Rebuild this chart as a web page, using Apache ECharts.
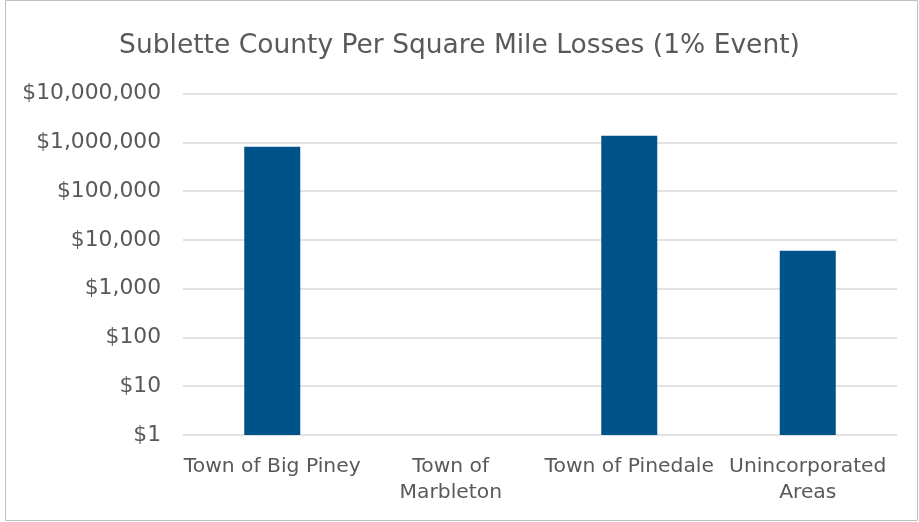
<!DOCTYPE html>
<html><head><meta charset="utf-8">
<script src="https://cdn.jsdelivr.net/npm/echarts@6/dist/echarts.min.js"></script>
<style>html,body{margin:0;padding:0;background:#fff}#c{width:919px;height:522px}</style>
</head><body><div id="c"></div>
<script>
const categories = ['Town of Big Piney', 'Town of\nMarbleton', 'Town of Pinedale', 'Unincorporated\nAreas'];
const losses = [810000, '-', 1360000, 6000];
const yTicks = [1, 10, 100, 1000, 10000, 100000, 1000000, 10000000];
const titleText = 'Sublette County Per Square Mile Losses (1% Event)';

const FONT = 'DejaVu Sans';
const chart = echarts.init(document.getElementById('c'), null, {renderer: 'canvas'});
chart.setOption({
  animation: false,
  backgroundColor: '#fff',
  title: {
    text: titleText, left: 'center', top: 28,
    textStyle: {fontFamily: FONT, fontSize: 26.5, fontWeight: 'normal', color: '#595959'}
  },
  graphic: [{
    type: 'rect', shape: {x: 5.5, y: 0.5, width: 912, height: 520},
    style: {fill: 'none', stroke: '#bfbfbf', lineWidth: 1}, silent: true
  }],
  grid: {left: 183, right: 22, top: 93.5, bottom: 87},
  xAxis: {
    type: 'category', data: categories,
    axisLine: {show: false}, axisTick: {show: false},
    axisLabel: {fontFamily: FONT, fontSize: 20.3, color: '#595959', margin: 19, lineHeight: 26, interval: 0}
  },
  yAxis: {
    type: 'log', logBase: 10, min: yTicks[0], max: yTicks[yTicks.length - 1],
    axisLine: {show: false}, axisTick: {show: false},
    splitLine: {lineStyle: {color: '#d9d9d9', width: 1.5}},
    axisLabel: {
      fontFamily: FONT, fontSize: 21.8, color: '#595959', margin: 22,
      formatter: v => '$' + Math.round(v).toLocaleString('en-US')
    }
  },
  series: [{
    type: 'bar', data: losses, barWidth: 56,
    itemStyle: {color: '#00538A'}
  }]
});
</script></body></html>
